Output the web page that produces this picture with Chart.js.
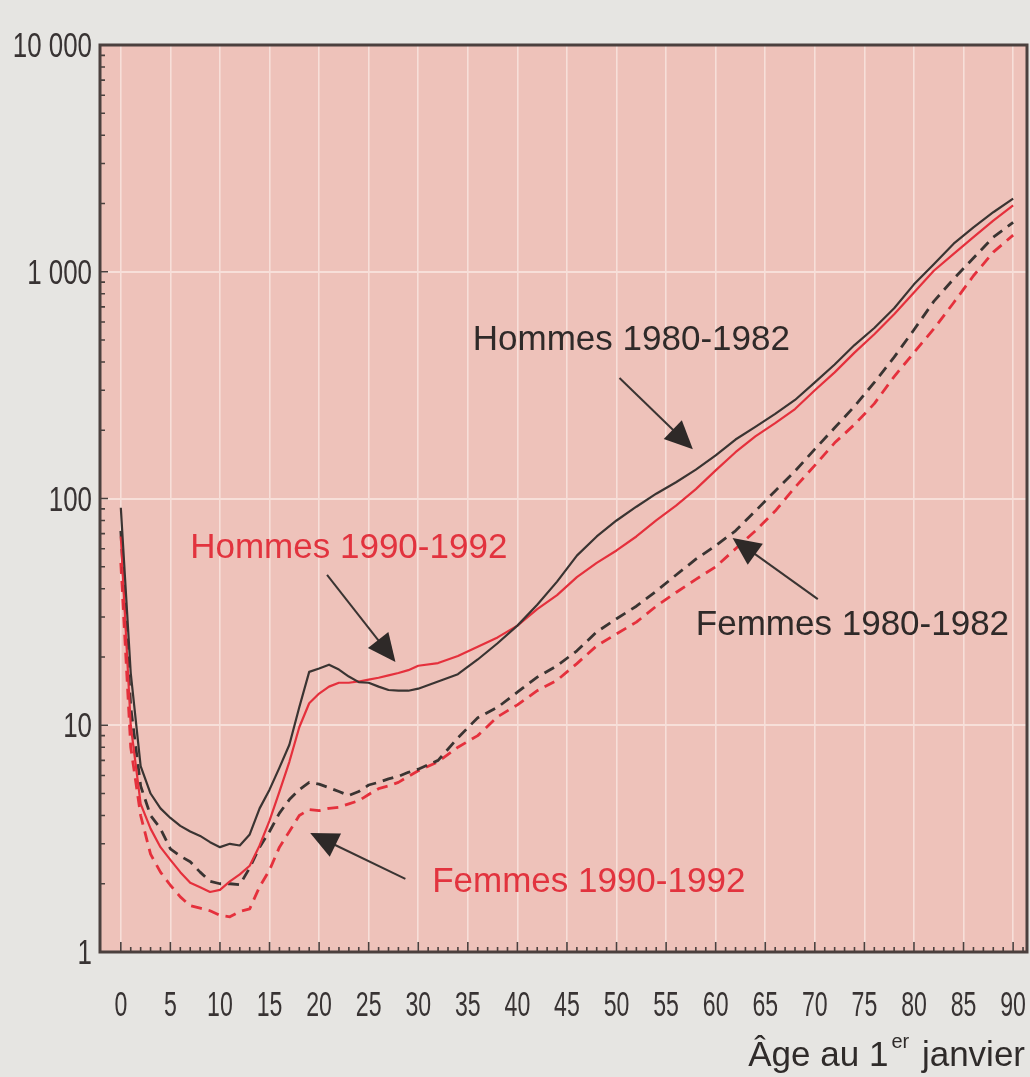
<!DOCTYPE html>
<html lang="fr">
<head>
<meta charset="utf-8">
<title>Quotients de mortalité par âge</title>
<script src="https://cdn.jsdelivr.net/npm/chart.js@4.4.1/dist/chart.umd.min.js"></script>
<style>
  html, body { margin: 0; padding: 0; background: #e6e5e2; }
  #wrap { width: 1030px; height: 1077px; }
  canvas { display: block; }
</style>
</head>
<body>
<div id="wrap"><canvas id="c" width="1030" height="1077"></canvas></div>
<script>
// Âge au 1er janvier
const ages = [0,1,2,3,4,5,6,7,8,9,10,11,12,13,14,15,16,17,18,19,20,21,22,23,24,25,26,27,28,29,30,
  32,34,36,38,40,42,44,46,48,50,52,54,56,58,60,62,64,66,68,70,72,74,76,78,80,82,84,86,88,90];

// Quotients de mortalité (pour 10 000)
const hommes1980 = [91,17,6.6,5.0,4.3,3.9,3.6,3.4,3.25,3.05,2.9,3.0,2.95,3.3,4.3,5.2,6.5,8.2,12.0,17.2,17.8,18.5,17.6,16.4,15.5,15.4,14.8,14.3,14.2,14.2,14.5,
  15.6,16.8,19.5,23,27.5,34,43,56,68,80,92,105,118,134,155,182,207,236,272,325,390,475,565,690,880,1080,1330,1570,1830,2100];
const hommes1990 = [68,10,4.5,3.5,2.9,2.55,2.25,2.02,1.93,1.84,1.88,2.05,2.2,2.4,2.95,3.8,5.1,6.9,9.8,12.5,13.8,14.8,15.4,15.4,15.6,15.9,16.2,16.6,17.0,17.5,18.3,
  18.8,20.2,22.2,24.4,27.5,32.5,37.5,45,52,59,68,80,93,110,133,160,188,215,248,300,360,440,530,650,810,1010,1200,1420,1680,1960];
const femmes1980 = [72,12,5.4,4.0,3.5,2.85,2.65,2.5,2.25,2.05,2.0,2.0,1.98,2.35,2.9,3.4,4.1,4.7,5.2,5.6,5.5,5.3,5.1,4.9,5.1,5.45,5.6,5.8,5.95,6.2,6.4,
  7.0,8.8,10.8,12.0,14.0,16.3,18.3,21.3,25.8,29.5,33.5,39,46,54,62,72,88,108,132,165,205,255,325,420,555,740,930,1150,1420,1650];
const femmes1990 = [52,8,4.0,2.7,2.25,1.97,1.75,1.6,1.56,1.52,1.45,1.43,1.51,1.55,1.94,2.3,2.9,3.4,4.0,4.25,4.2,4.3,4.35,4.5,4.65,4.95,5.25,5.4,5.6,5.95,6.3,
  6.9,8.0,9.0,10.9,12.3,14.2,15.8,18.7,22.4,25.3,28.5,33.5,38.5,44,50,60,72,88,112,140,176,212,262,345,440,560,730,960,1220,1450];

// Graduations
const xTicks = [0,5,10,15,20,25,30,35,40,45,50,55,60,65,70,75,80,85,90];
const yTicks = [1,10,100,1000,10000];
const yTickLabels = ['1','10','100','1 000','10 000'];

// Étiquettes des courbes : position du texte et flèche (âge, quotient)
const labels = [
  { text: 'Hommes 1980-1982', color: '#2f2a29', at: [35.5, 500], from: [50.3, 340], to: [57.7, 165] },
  { text: 'Hommes 1990-1992', color: '#e2333e', at: [7.0, 60],   from: [20.8, 46],  to: [27.7, 19] },
  { text: 'Femmes 1980-1982', color: '#2f2a29', at: [58.0, 27.5], from: [70.3, 36], to: [61.7, 67] },
  { text: 'Femmes 1990-1992', color: '#e2333e', at: [31.4, 2.03], from: [28.7, 2.1], to: [19.1, 3.35] }
];

const INK = '#3a3432';
const RED = '#e5303c';
const PINK = '#eec2ba';
const GRID = '#f7dfd9';
const TICK_FONT = '35px "Liberation Sans", Arial, sans-serif';

function series(values) {
  return ages.map((a, i) => ({ x: a, y: values[i] }));
}

function drawArrow(ctx, x1, y1, x2, y2) {
  const ang = Math.atan2(y2 - y1, x2 - x1);
  const L = 28, W = 13;
  const bx = x2 - L * Math.cos(ang), by = y2 - L * Math.sin(ang);
  ctx.beginPath();
  ctx.moveTo(x1, y1);
  ctx.lineTo(bx + 2 * Math.cos(ang), by + 2 * Math.sin(ang));
  ctx.stroke();
  ctx.beginPath();
  ctx.moveTo(x2, y2);
  ctx.lineTo(bx + W * Math.sin(ang), by - W * Math.cos(ang));
  ctx.lineTo(bx - W * Math.sin(ang), by + W * Math.cos(ang));
  ctx.closePath();
  ctx.fill();
}

// chiffres en caractères étroits
function narrowText(ctx, text, x, y, align, squeeze) {
  ctx.save();
  ctx.translate(x, y);
  ctx.scale(squeeze, 1);
  ctx.textAlign = align;
  ctx.fillText(text, 0, 0);
  ctx.restore();
}

const decor = {
  id: 'decor',
  beforeDraw(chart) {
    const { ctx, chartArea: a } = chart;
    ctx.save();
    ctx.fillStyle = PINK;
    ctx.fillRect(a.left, a.top, a.right - a.left, a.bottom - a.top);
    ctx.restore();
  },
  afterDatasetsDraw(chart) {
    const { ctx, chartArea: a, scales: { x, y } } = chart;
    ctx.save();

    // petites graduations intérieures
    ctx.strokeStyle = '#4a403e';
    ctx.lineWidth = 1.6;
    ctx.beginPath();
    for (let age = 0; age <= 91; age++) {
      const px = x.getPixelForValue(age);
      const len = age % 5 === 0 ? 10 : 5;
      ctx.moveTo(px, a.bottom);
      ctx.lineTo(px, a.bottom - len);
    }
    for (let d = 1; d < 10000; d *= 10) {
      for (let m = 1; m <= 10; m++) {
        const py = y.getPixelForValue(d * m);
        const len = (m === 1 || m === 10) ? 8 : 5;
        ctx.moveTo(a.left, py);
        ctx.lineTo(a.left + len, py);
      }
    }
    ctx.stroke();

    // cadre
    ctx.strokeStyle = '#4b403e';
    ctx.lineWidth = 3;
    ctx.strokeRect(a.left, a.top, a.right - a.left, a.bottom - a.top);

    // libellés des graduations, tirés des axes
    ctx.fillStyle = '#383333';
    ctx.font = TICK_FONT;
    ctx.textBaseline = 'alphabetic';
    x.ticks.forEach((t, i) => {
      narrowText(ctx, t.label != null ? String(t.label) : String(t.value),
        x.getPixelForTick(i), a.bottom + 64, 'center', 0.66);
    });
    y.ticks.forEach((t, i) => {
      const lab = t.label != null ? String(t.label) : yTickLabels[yTicks.indexOf(t.value)];
      narrowText(ctx, lab, a.left - 8, y.getPixelForTick(i) + 12, 'right', 0.74);
    });

    // étiquettes et flèches
    ctx.font = '35px "Liberation Sans", Arial, sans-serif';
    ctx.textBaseline = 'middle';
    ctx.textAlign = 'left';
    for (const l of labels) {
      ctx.fillStyle = l.color;
      ctx.fillText(l.text, x.getPixelForValue(l.at[0]), y.getPixelForValue(l.at[1]));
      ctx.strokeStyle = '#3a3432';
      ctx.fillStyle = '#2e2928';
      ctx.lineWidth = 2;
      drawArrow(ctx,
        x.getPixelForValue(l.from[0]), y.getPixelForValue(l.from[1]),
        x.getPixelForValue(l.to[0]), y.getPixelForValue(l.to[1]));
    }

    // titre de l'axe des âges : « Âge au 1er janvier »
    const right = a.right - 2;
    const base = a.bottom + 114;
    ctx.fillStyle = '#2f2b2a';
    ctx.textBaseline = 'alphabetic';
    ctx.textAlign = 'left';
    const big = '35px "Liberation Sans", Arial, sans-serif';
    const small = '20px "Liberation Sans", Arial, sans-serif';
    ctx.font = big;
    const wTail = ctx.measureText(' janvier').width;
    const wHead = ctx.measureText('Âge au 1').width;
    ctx.font = small;
    const wSup = ctx.measureText('er').width + 6;
    let xx = right - wTail - wSup - wHead;
    ctx.font = big;
    ctx.fillText('Âge au 1', xx, base);
    xx += wHead + 3;
    ctx.font = small;
    ctx.fillText('er', xx, base - 18);
    xx += wSup - 3;
    ctx.font = big;
    ctx.fillText(' janvier', xx, base);

    ctx.restore();
  }
};

new Chart(document.getElementById('c'), {
  type: 'line',
  data: {
    datasets: [
      { label: 'Hommes 1980-1982', data: series(hommes1980), borderColor: INK, borderWidth: 2.2 },
      { label: 'Hommes 1990-1992', data: series(hommes1990), borderColor: RED, borderWidth: 2.2 },
      { label: 'Femmes 1980-1982', data: series(femmes1980), borderColor: INK, borderWidth: 2.8, borderDash: [11, 7] },
      { label: 'Femmes 1990-1992', data: series(femmes1990), borderColor: RED, borderWidth: 2.8, borderDash: [11, 7] }
    ]
  },
  options: {
    responsive: false,
    devicePixelRatio: 1,
    animation: false,
    events: [],
    layout: { padding: { top: 45, right: 3, left: 0, bottom: 0 } },
    elements: {
      point: { radius: 0 },
      line: { tension: 0, fill: false, borderCapStyle: 'butt', borderJoinStyle: 'round' }
    },
    plugins: { legend: { display: false }, tooltip: { enabled: false }, title: { display: false } },
    scales: {
      x: {
        type: 'linear',
        min: -2.1,
        max: 91.4,
        afterBuildTicks(scale) { scale.ticks = xTicks.map(v => ({ value: v })); },
        afterFit(scale) { scale.height = 125; },
        ticks: { display: false, autoSkip: false, maxRotation: 0, padding: 0,
                 callback: v => String(v) },
        grid: { color: GRID, lineWidth: 1.6, drawTicks: false },
        border: { display: false }
      },
      y: {
        type: 'logarithmic',
        min: 1,
        max: 10000,
        afterBuildTicks(scale) { scale.ticks = yTicks.map(v => ({ value: v, major: true })); },
        afterFit(scale) { scale.width = 100; },
        ticks: { display: false, autoSkip: false, padding: 0,
                 callback: v => { const i = yTicks.indexOf(v); return i >= 0 ? yTickLabels[i] : ''; } },
        grid: { color: GRID, lineWidth: 2, drawTicks: false },
        border: { display: false }
      }
    }
  },
  plugins: [decor]
});
</script>
</body>
</html>
